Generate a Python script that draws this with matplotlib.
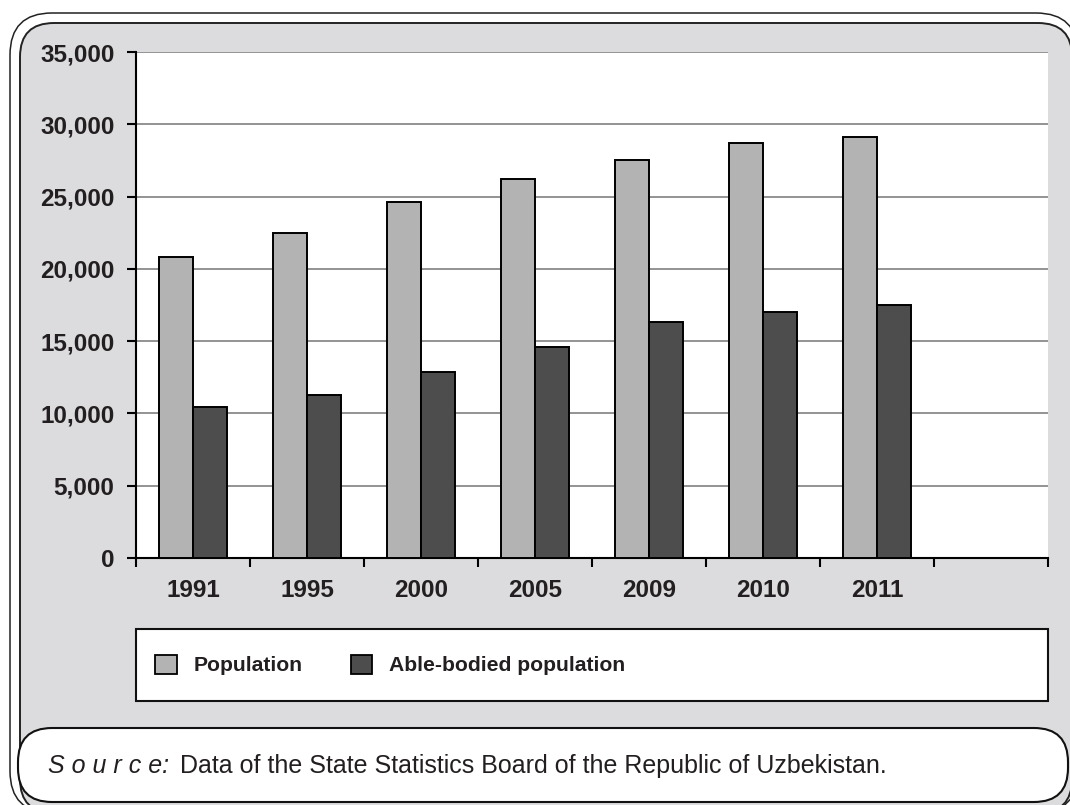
import matplotlib
matplotlib.use("Agg")
import matplotlib.pyplot as plt
from matplotlib.patches import FancyBboxPatch, Rectangle, Patch
import numpy as np

years = ["1991", "1995", "2000", "2005", "2009", "2010", "2011"]
population = [20800, 22500, 24600, 26200, 27500, 28700, 29100]
able_bodied = [10450, 11250, 12900, 14600, 16300, 17050, 17500]
series_names = ["Population", "Able-bodied population"]
y_ticks = [0, 5000, 10000, 15000, 20000, 25000, 30000, 35000]

W, H = 1070, 805
GRAY_BG = "#dcdcde"
LIGHT = "#b3b3b3"
DARK = "#4d4d4d"
TXT = "#231f20"

plt.rcParams["font.family"] = ["Liberation Sans", "DejaVu Sans"]

fig = plt.figure(figsize=(W / 100, H / 100), dpi=100)
fig.patch.set_facecolor("white")

# background layer in pixel units (y down)
bg = fig.add_axes([0, 0, 1, 1])
bg.set_xlim(0, W)
bg.set_ylim(H, 0)
bg.axis("off")

bg.add_patch(FancyBboxPatch((10, 13), 1068, 800, boxstyle="round,pad=0,rounding_size=42",
                            fc="white", ec="#222222", lw=1.1))
bg.add_patch(FancyBboxPatch((20, 23), 1052, 790, boxstyle="round,pad=0,rounding_size=34",
                            fc=GRAY_BG, ec="#222222", lw=1.4))
# source box
bg.add_patch(FancyBboxPatch((18, 728), 1050, 74, boxstyle="round,pad=0,rounding_size=34",
                            fc="white", ec="#111111", lw=1.5))
bg.text(48, 766, "S o u r c e:", fontsize=18, style="italic", color=TXT, va="center")
bg.text(180, 766, "Data of the State Statistics Board of the Republic of Uzbekistan.",
        fontsize=18, color=TXT, va="center")

# legend box
bg.add_patch(Rectangle((136, 629), 912, 72, fc="white", ec="#111111", lw=1.5))

# main chart
left, right, top, bottom = 136, 1048, 52, 558
ax = fig.add_axes([left / W, 1 - bottom / H, (right - left) / W, (bottom - top) / H])
ax.set_facecolor("white")

x = np.arange(len(years))
bw = 0.3
ax.bar(x - bw / 2, population, bw, color=LIGHT, edgecolor="black", linewidth=1.4, zorder=3)
ax.bar(x + bw / 2, able_bodied, bw, color=DARK, edgecolor="black", linewidth=1.4, zorder=3)

ax.set_xlim(-0.5, 7.5)
ax.set_ylim(0, 35000)
ax.set_yticks(y_ticks)
ax.set_yticklabels([f"{v:,}" for v in y_ticks])
ax.yaxis.grid(True, color="#808080", linewidth=1.2, zorder=0)
ax.set_axisbelow(True)

ax.set_xticks(x)
ax.set_xticklabels(years)
ax.set_xticks(np.arange(-0.5, 8.0, 1.0), minor=True)
ax.tick_params(axis="x", which="major", length=0, pad=15)
ax.tick_params(axis="x", which="minor", length=6.5, width=1.5, direction="out")
ax.tick_params(axis="y", length=6.5, width=1.5, direction="out", pad=9)

for lab in ax.get_xticklabels() + ax.get_yticklabels():
    lab.set_fontweight("bold")
    lab.set_fontsize(17.5)
    lab.set_color(TXT)

for s in ["top", "right"]:
    ax.spines[s].set_visible(False)
for s in ["left", "bottom"]:
    ax.spines[s].set_linewidth(1.5)
    ax.spines[s].set_color("black")

handles = [Patch(fc=LIGHT, ec="black", lw=1.3), Patch(fc=DARK, ec="black", lw=1.3)]
leg = fig.legend(handles, series_names, loc="center left",
                 bbox_to_anchor=(147 / W, 1 - 665 / H), ncol=2, frameon=False,
                 prop={"weight": "bold", "size": 15.2}, handlelength=1.0, handleheight=1.05,
                 handletextpad=0.8, columnspacing=2.3, borderaxespad=0)
for t in leg.get_texts():
    t.set_color(TXT)

fig.savefig("out.png", dpi=100, facecolor="white")
